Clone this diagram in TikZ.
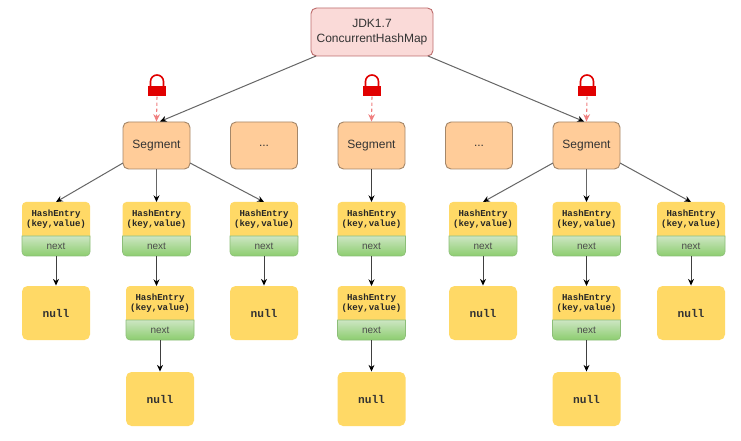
\documentclass[tikz,border=0pt]{standalone}
\usepackage{fontspec}
\setmainfont{Liberation Sans}
\newfontfamily\entryfont{Liberation Mono}
\usetikzlibrary{arrows.meta}
\def\u{0.75pt}
\tikzset{
  x=0.75pt,y=-0.75pt,
  base/.style={rounded corners=5.5*\u,line width=0.7pt,align=center,inner sep=0pt,font=\fontsize{9}{11}\selectfont,text=black!80},
  rootbox/.style={base,draw={rgb,255:red,190;green,110;blue,110},fill={rgb,255:red,250;green,218;blue,216},minimum width=122*\u,minimum height=48*\u},
  segbox/.style={base,draw={rgb,255:red,165;green,135;blue,105},fill={rgb,255:red,255;green,204;blue,153},minimum width=67*\u,minimum height=47*\u},
  nullbox/.style={base,fill={rgb,255:red,255;green,217;blue,102},minimum width=68*\u,minimum height=54*\u,font=\entryfont\bfseries\fontsize{8.4}{10}\selectfont},
  entrybox/.style={rounded corners=4*\u,fill={rgb,255:red,255;green,217;blue,102}},
  entrytext/.style={align=center,inner sep=0pt,text=black!85,font=\entryfont\bfseries\fontsize{6.8}{8}\selectfont},
  nextshade/.style={top color={rgb,255:red,205;green,230;blue,195},bottom color={rgb,255:red,140;green,205;blue,110},draw={rgb,255:red,140;green,190;blue,120},line width=0.4pt},
  nexttext/.style={inner sep=0pt,text=black!70,font=\fontsize{7.5}{9}\selectfont,minimum width=68*\u,minimum height=20*\u},
  link/.style={draw=black!60,line width=0.75pt,-{Stealth[black,length=5pt,width=4.5pt]}},
  darklink/.style={link,draw=black!75},
  lockbody/.style={fill={rgb,255:red,225;green,0;blue,0},draw=none},
  lockbar/.style={draw={rgb,255:red,225;green,0;blue,0},line width=1.2pt},
  lockarrow/.style={draw={rgb,255:red,240;green,128;blue,128},line width=0.8pt,dash pattern=on 2.5pt off 2pt,-{Stealth[length=5.5pt,width=5pt]}}
}
% \entry{name}{centre x}{top y}
\newcommand{\entry}[3]{%
  \fill[entrybox] (#2-34,#3) rectangle (#2+34,#3+40);
  \path[nextshade] (#2-34,#3+34) -- (#2+34,#3+34) [rounded corners=3pt] -- (#2+34,#3+54) -- (#2-34,#3+54) [sharp corners] -- cycle;
  \node[entrytext] (#1) at (#2,#3+17) {HashEntry\\(key,value)};
  \node[nexttext] (#1n) at (#2,#3+44) {next};
}
\newcommand{\lockicon}[2]{%
  \draw[lockbar] (#2-6.5,86) -- (#2-6.5,81.5) arc[start angle=180,end angle=360,radius=6.5] -- (#2+6.5,86);
  \node[lockbody,minimum width=17.5*\u,minimum height=10.5*\u,inner sep=0pt] (#1) at (#2,91) {};
}
\begin{document}
\begin{tikzpicture}
\useasboundingbox (0,0) rectangle (741,441);
\fill[white] (0,0) rectangle (741,441);

\node[rootbox] (root) at (372,32) {JDK1.7\\ConcurrentHashMap};

\node[segbox] (s1) at (156.5,145.5) {Segment};
\node[segbox] (s2) at (264,145.5) {...};
\node[segbox] (s3) at (371.5,145.5) {Segment};
\node[segbox] (s4) at (479,145.5) {...};
\node[segbox] (s5) at (586.5,145.5) {Segment};

\entry{a}{56}{202}
\entry{b}{156.5}{202}
\entry{bb}{160}{286}
\entry{c}{264}{202}
\entry{d}{371.5}{202}
\entry{dd}{371.5}{286}
\entry{e}{483}{202}
\entry{f}{586.5}{202}
\entry{ff}{586.5}{286}
\entry{g}{691}{202}

\node[nullbox] (na) at (56,313) {null};
\node[nullbox] (nb) at (160,399) {null};
\node[nullbox] (nc) at (264,313) {null};
\node[nullbox] (nd) at (371.5,399) {null};
\node[nullbox] (ne) at (483,313) {null};
\node[nullbox] (nf) at (586.5,399) {null};
\node[nullbox] (ng) at (691,313) {null};

\coordinate (ta) at (56,202);
\coordinate (tb) at (156.5,202);
\coordinate (tbb) at (156.5,286);
\coordinate (tc) at (264,202);
\coordinate (td) at (371.5,202);
\coordinate (tdd) at (371.5,286);
\coordinate (te) at (483,202);
\coordinate (tf) at (586.5,202);
\coordinate (tff) at (586.5,286);
\coordinate (tg) at (691,202);
\coordinate (rl) at (316,56);
\coordinate (rr) at (428,56);
\coordinate (s1top) at (160,121.5);
\coordinate (s5top) at (584,121.5);
\coordinate (s1l) at (123,163);
\coordinate (s1r) at (190,163);
\coordinate (s5l) at (553,163);
\coordinate (s5r) at (620,163);

\draw[link] (rl) -- (s1top);
\draw[link] (rr) -- (s5top);

\draw[link] (s1l) -- (ta);
\draw[link] (s1.south) -- (tb);
\draw[link] (s1r) -- (tc);
\draw[darklink] (s3.south) -- (td);
\draw[link] (s5l) -- (te);
\draw[link] (s5.south) -- (tf);
\draw[link] (s5r) -- (tg);

\draw[darklink] (an.south) -- (na.north);
\draw[darklink] (bn.south) -- (tbb);
\draw[darklink] (bbn.south) -- (nb.north);
\draw[darklink] (cn.south) -- (nc.north);
\draw[darklink] (dn.south) -- (tdd);
\draw[darklink] (ddn.south) -- (nd.north);
\draw[darklink] (en.south) -- (ne.north);
\draw[darklink] (fn.south) -- (tff);
\draw[darklink] (ffn.south) -- (nf.north);
\draw[darklink] (gn.south) -- (ng.north);

\lockicon{l1}{157}
\lockicon{l2}{372}
\lockicon{l3}{587}
\draw[lockarrow] (l1.south) -- (s1.north);
\draw[lockarrow] (l2.south) -- (s3.north);
\draw[lockarrow] (l3.south) -- (s5.north);
\end{tikzpicture}
\end{document}
